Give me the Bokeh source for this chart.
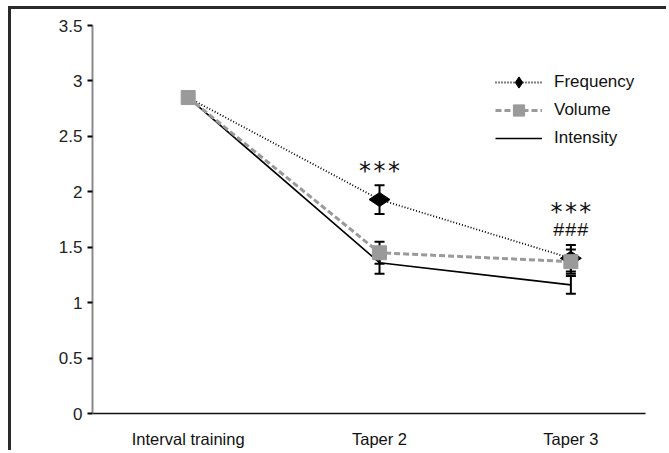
import math
from bokeh.plotting import figure
from bokeh.models import Legend, LegendItem, Whisker, ColumnDataSource, FixedTicker
from bokeh.embed import file_html
from bokeh.resources import INLINE

categories = ["Interval training", "Taper 2", "Taper 3"]
x_pos = [0, 1, 2]

frequency = [2.85, 1.93, 1.40]
frequency_err = [0.0, 0.13, 0.12]
volume = [2.85, 1.45, 1.37]
volume_err = [0.0, 0.10, 0.11]
intensity = [2.85, 1.36, 1.16]
intensity_err = [0.0, 0.10, 0.08]

y_ticks = [0, 0.5, 1, 1.5, 2, 2.5, 3, 3.5]
y_tick_labels = ["0", "0.5", "1", "1.5", "2", "2.5", "3", "3.5"]

annot_x = [1, 2, 2]
annot_y = [2.19, 1.82, 1.65]
annot_text = ["***", "***", "###"]

FONT = "Liberation Sans"

p = figure(width=658, height=444, x_range=(-0.5, 2.39), y_range=(0, 3.5),
           output_backend="svg", toolbar_location=None,
           min_border_left=81, min_border_right=24, min_border_top=16, min_border_bottom=40)
p.styles = {"margin-left": "8px", "margin-top": "6px",
            "border-top": "3px solid #2a2a2a", "border-left": "3px solid #2a2a2a"}
p.outline_line_color = None
p.grid.visible = False
p.background_fill_color = "white"
p.border_fill_color = "white"

# axes
p.yaxis.ticker = FixedTicker(ticks=y_ticks)
p.yaxis.major_label_overrides = {t: l for t, l in zip(y_ticks, y_tick_labels)}
p.yaxis.axis_line_color = "#8a8a8a"
p.yaxis.axis_line_width = 2
p.yaxis.major_tick_line_color = "black"
p.yaxis.major_tick_line_width = 2
p.yaxis.major_tick_out = 5
p.yaxis.major_tick_in = 0
p.yaxis.minor_tick_line_color = None
p.yaxis.major_label_text_font = FONT
p.yaxis.major_label_text_font_size = "17px"
p.yaxis.major_label_text_color = "#222222"
p.yaxis.major_label_standoff = 5

p.xaxis.ticker = FixedTicker(ticks=x_pos)
p.xaxis.major_label_overrides = {x: c for x, c in zip(x_pos, categories)}
p.xaxis.axis_line_color = "#111111"
p.xaxis.axis_line_width = 1.5
p.xaxis.major_tick_line_color = None
p.xaxis.minor_tick_line_color = None
p.xaxis.major_label_text_font = FONT
p.xaxis.major_label_text_font_size = "16.5px"
p.xaxis.major_label_text_color = "#111111"
p.xaxis.major_label_standoff = 10

src = ColumnDataSource(dict(x=x_pos, f=frequency, v=volume, i=intensity))
# frequency markers are only visible at the taper points (the volume square covers the first)
src_fm = ColumnDataSource(dict(x=x_pos[1:], f=frequency[1:]))

src_err = ColumnDataSource(dict(
    x=x_pos[1:],
    f_lo=[a - b for a, b in zip(frequency, frequency_err)][1:], f_hi=[a + b for a, b in zip(frequency, frequency_err)][1:],
    v_lo=[a - b for a, b in zip(volume, volume_err)][1:], v_hi=[a + b for a, b in zip(volume, volume_err)][1:],
    i_lo=[a - b for a, b in zip(intensity, intensity_err)][1:], i_hi=[a + b for a, b in zip(intensity, intensity_err)][1:],
))

for lo, hi in [("i_lo", "i_hi"), ("v_lo", "v_hi"), ("f_lo", "f_hi")]:
    w = Whisker(source=src_err, base="x", lower=lo, upper=hi, line_color="black", line_width=2)
    w.upper_head.size = 10
    w.lower_head.size = 10
    w.upper_head.line_width = 2
    w.lower_head.line_width = 2
    p.add_layout(w)

r_i = p.line("x", "i", source=src, line_color="black", line_width=1.6)
r_f = p.line("x", "f", source=src, line_color="black", line_width=1.8, line_dash="1 2")
r_fm = p.scatter("x", "f", source=src_fm, marker="diamond", angle=math.pi / 2, size=21,
                 fill_color="black", line_color="black")
r_v = p.line("x", "v", source=src, line_color="#9a9a9a", line_width=3, line_dash="6 3")
r_vm = p.scatter("x", "v", source=src, marker="square", size=14, fill_color="#9a9a9a", line_color="#9a9a9a")

annot_src = ColumnDataSource(dict(
    x=annot_x, y=annot_y, text=annot_text,
    font=["DejaVu Sans Mono", "DejaVu Sans Mono", "Liberation Mono"],
    size=["24px", "24px", "20px"],
))
p.text(x="x", y="y", text="text", source=annot_src, text_align="center", text_baseline="alphabetic",
       text_font="font", text_font_size="size", text_color="#111111")

legend = Legend(items=[
    LegendItem(label="Frequency", renderers=[r_f, r_fm]),
    LegendItem(label="Volume", renderers=[r_v, r_vm]),
    LegendItem(label="Intensity", renderers=[r_i]),
], location=(403, 261))
legend.label_text_font = FONT
legend.label_text_font_size = "17px"
legend.label_text_color = "#111111"
legend.glyph_width = 47
legend.glyph_height = 28
legend.label_height = 28
legend.spacing = 0
legend.border_line_color = None
legend.background_fill_alpha = 1
legend.margin = 0
legend.padding = 8
legend.label_standoff = 12
p.add_layout(legend)

open("out.html", "w").write(file_html(p, INLINE))
